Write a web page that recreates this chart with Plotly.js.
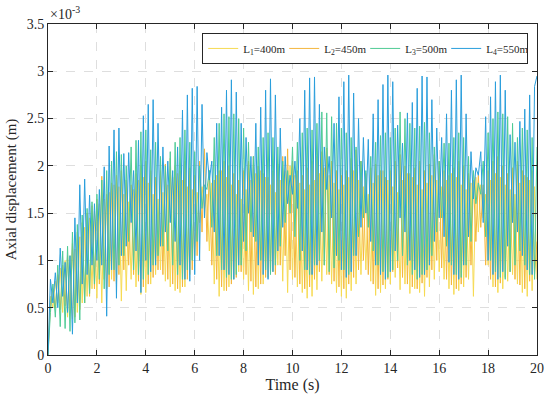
<!DOCTYPE html>
<html>
<head>
<meta charset="utf-8">
<script src="https://cdn.plot.ly/plotly-3.0.1.min.js"></script>
<style>html,body{margin:0;padding:0;background:#fff;}#chart{width:550px;height:404px;}</style>
</head>
<body>
<div id="chart"></div>
<script>
// Time samples (s): 0 to 20 in 0.1 s steps
const timeStep = 0.1;
const nSamples = 201;
const time = Array.from({length: nSamples}, (_, i) => +(i * timeStep).toFixed(1));

// Axial displacement values in units of 1e-3 m
const disp_L1 = [0, 0.62, 0.50, 0.78, 0.55, 0.92, 0.45, 1.00, 0.40, 1.05,
0.38, 1.12, 0.45, 1.25, 0.55, 1.35, 0.62, 1.45, 0.70, 1.52,
0.60, 1.60, 0.55, 1.65, 0.70, 1.72, 0.80, 1.80, 0.75, 1.78,
0.57, 1.70, 0.68, 1.62, 0.80, 1.75, 0.72, 1.85, 0.64, 1.88,
0.66, 1.82, 0.75, 1.70, 0.85, 1.65, 0.90, 1.72, 0.78, 1.80,
0.72, 1.88, 0.68, 1.92, 0.66, 1.85, 0.72, 1.78, 0.85, 1.75,
1.05, 1.72, 1.40, 1.78, 1.55, 1.70, 1.10, 1.82, 0.75, 1.90,
0.62, 1.95, 0.68, 1.88, 0.72, 1.80, 0.80, 1.70, 0.88, 1.65,
0.80, 1.75, 0.68, 1.85, 0.64, 1.92, 0.70, 1.95, 0.75, 1.88,
0.82, 1.80, 0.88, 1.72, 0.95, 1.85, 0.78, 1.95, 0.66, 2.00,
0.80, 1.90, 0.72, 1.82, 0.66, 1.75, 0.60, 1.80, 0.62, 1.85,
0.69, 1.92, 0.78, 1.98, 0.85, 1.90, 0.75, 1.82, 0.66, 1.75,
0.62, 1.80, 0.60, 1.88, 0.68, 1.95, 0.75, 1.85, 0.85, 1.78,
0.90, 1.70, 0.78, 1.82, 0.63, 1.90, 0.66, 1.95, 0.70, 1.85,
0.75, 1.78, 0.82, 1.72, 0.69, 1.85, 0.75, 1.92, 0.65, 1.88,
0.70, 1.80, 0.66, 1.75, 0.62, 1.82, 0.72, 1.90, 0.80, 1.85,
0.88, 1.78, 0.80, 1.85, 0.70, 1.92, 0.64, 1.88, 0.68, 1.80,
0.72, 1.75, 0.80, 1.82, 0.62, 1.88, 1.30, 1.80, 1.45, 1.70,
0.95, 1.85, 0.72, 1.92, 0.66, 1.88, 0.70, 1.80, 0.78, 1.75,
0.85, 1.70, 0.75, 1.82, 0.66, 1.90, 0.62, 1.85, 0.68, 1.78,
0.80];

const disp_L2 = [0, 0.55, 0.70, 0.50, 0.85, 0.48, 0.95, 0.52, 1.05, 0.45,
1.18, 0.40, 1.30, 0.48, 1.40, 0.55, 1.50, 0.62, 1.58, 0.70,
1.65, 0.75, 1.89, 0.80, 1.70, 0.72, 1.82, 0.78, 1.90, 0.85,
1.95, 0.90, 1.85, 0.95, 1.80, 0.85, 1.92, 0.78, 2.00, 0.72,
2.05, 0.75, 1.95, 0.82, 1.88, 0.90, 1.95, 0.85, 2.02, 0.80,
2.08, 0.75, 2.00, 0.70, 1.95, 0.72, 2.05, 0.80, 1.98, 0.90,
1.90, 1.05, 2.05, 1.30, 2.18, 1.20, 1.95, 0.95, 1.85, 0.80,
1.95, 0.72, 2.05, 0.68, 2.00, 0.75, 1.92, 0.82, 1.85, 0.88,
1.95, 0.85, 2.05, 0.78, 2.10, 0.72, 2.00, 0.75, 1.92, 0.82,
1.88, 0.88, 1.95, 0.85, 2.02, 0.95, 2.10, 1.05, 2.18, 0.90,
2.05, 0.82, 1.95, 0.75, 1.90, 0.70, 1.98, 0.72, 2.05, 0.80,
2.10, 0.88, 2.15, 0.95, 2.19, 0.85, 2.05, 0.78, 1.95, 0.72,
1.90, 0.70, 1.95, 0.75, 2.08, 0.82, 2.17, 0.90, 2.05, 1.00,
1.92, 0.85, 1.98, 0.75, 2.02, 0.70, 1.95, 0.74, 1.88, 0.80,
1.95, 0.88, 2.05, 0.92, 2.12, 0.82, 2.00, 0.75, 1.92, 0.72,
1.98, 0.70, 2.05, 0.76, 1.95, 0.82, 2.02, 0.90, 2.12, 1.00,
2.05, 0.92, 1.95, 0.80, 1.90, 0.74, 1.98, 0.70, 2.05, 0.75,
2.00, 0.82, 1.92, 0.95, 1.85, 1.20, 1.90, 1.35, 1.80, 0.95,
1.95, 0.80, 2.05, 0.72, 2.10, 0.76, 2.00, 0.82, 1.92, 0.88,
1.98, 0.80, 2.05, 0.74, 1.95, 0.70, 1.88, 0.78, 1.95, 0.85,
1.20];

const disp_L3 = [0, 0.45, 0.75, 0.40, 0.95, 0.30, 1.10, 0.28, 1.15, 0.25,
1.30, 0.34, 1.38, 0.37, 1.48, 0.55, 1.55, 0.65, 1.62, 0.75,
1.70, 0.80, 1.85, 0.70, 1.95, 0.85, 2.05, 0.90, 2.15, 0.95,
2.12, 1.05, 2.00, 1.20, 2.20, 0.90, 2.27, 0.85, 2.36, 0.80,
2.38, 0.85, 2.17, 0.95, 2.25, 1.05, 2.10, 1.15, 2.00, 1.10,
2.15, 0.95, 2.25, 0.85, 2.30, 0.80, 2.38, 0.90, 2.25, 1.00,
2.15, 1.20, 2.00, 1.55, 1.80, 1.75, 1.95, 1.35, 2.30, 1.05,
2.45, 0.90, 2.55, 0.82, 2.52, 0.80, 2.55, 0.85, 2.50, 0.95,
2.40, 1.10, 2.25, 1.30, 2.10, 1.20, 2.20, 1.00, 2.30, 0.90,
2.35, 0.85, 2.30, 0.95, 2.20, 1.15, 2.05, 1.40, 1.95, 1.50,
2.20, 1.25, 2.25, 1.00, 2.35, 0.90, 2.40, 0.85, 2.38, 0.95,
2.45, 1.00, 2.57, 0.95, 2.56, 0.88, 2.52, 0.92, 2.45, 1.00,
2.40, 0.90, 2.35, 0.85, 2.30, 1.05, 2.20, 1.25, 2.05, 1.45,
1.95, 1.35, 2.10, 1.10, 2.25, 0.95, 2.32, 0.88, 2.35, 0.82,
2.30, 0.90, 2.40, 1.00, 2.57, 1.05, 2.50, 0.95, 2.45, 0.85,
2.40, 0.80, 2.42, 0.85, 2.46, 0.90, 2.35, 1.05, 2.20, 1.30,
2.05, 1.45, 2.24, 1.15, 2.24, 0.95, 2.30, 0.85, 2.35, 0.82,
2.30, 0.95, 2.10, 1.20, 1.95, 1.60, 1.82, 1.70, 2.05, 1.25,
2.35, 1.00, 2.50, 0.88, 2.57, 0.82, 2.55, 0.80, 2.52, 0.88,
2.45, 0.95, 2.30, 1.10, 2.40, 0.95, 2.38, 0.85, 2.30, 0.80,
2.20];

const disp_L4 = [0, 0.80, 0.55, 0.87, 0.50, 1.13, 0.62, 0.98, 0.45, 1.05,
0.22, 1.45, 0.55, 1.80, 0.75, 1.86, 0.85, 1.69, 0.95, 1.60,
1.00, 1.75, 0.95, 1.99, 0.41, 2.21, 0.90, 2.38, 0.60, 2.40,
1.05, 2.13, 1.15, 2.14, 1.40, 1.95, 1.10, 2.27, 0.66, 2.53,
1.00, 2.65, 0.88, 2.70, 0.95, 2.45, 1.15, 2.20, 1.30, 2.05,
1.40, 1.95, 1.20, 2.20, 0.95, 2.59, 0.80, 2.75, 0.78, 2.82,
0.85, 2.84, 1.00, 2.65, 1.45, 2.14, 1.85, 2.05, 1.30, 2.45,
1.05, 2.62, 0.90, 2.80, 0.85, 2.91, 0.80, 2.78, 0.95, 2.45,
1.20, 2.30, 1.50, 2.10, 1.25, 2.45, 0.95, 2.62, 0.85, 2.80,
0.80, 2.92, 0.88, 2.75, 1.10, 2.40, 1.35, 2.10, 1.60, 1.90,
1.70, 2.05, 1.55, 2.50, 1.10, 2.80, 0.90, 2.93, 0.85, 2.94,
0.95, 2.65, 1.30, 2.20, 1.75, 2.10, 1.45, 2.45, 1.05, 2.73,
0.90, 2.89, 0.82, 2.96, 0.88, 2.77, 1.05, 2.50, 1.35, 2.30,
1.50, 2.28, 1.20, 2.55, 0.95, 2.70, 0.85, 2.86, 0.80, 2.96,
0.88, 2.89, 1.10, 2.43, 1.45, 2.24, 1.30, 2.56, 1.00, 2.67,
0.90, 2.82, 0.82, 2.95, 0.85, 2.94, 0.95, 2.70, 1.20, 2.40,
1.45, 2.30, 1.25, 2.55, 0.98, 2.80, 0.85, 2.91, 0.80, 2.96,
0.95, 2.55, 1.25, 2.15, 1.65, 1.98, 1.90, 2.15, 1.40, 2.52,
1.00, 2.73, 0.85, 2.89, 0.80, 2.96, 0.88, 2.80, 1.15, 2.33,
1.40, 2.25, 1.30, 2.47, 1.05, 2.60, 0.90, 2.75, 0.85, 2.84,
2.95];

const seriesNames = ['L<sub>1</sub>=400m', 'L<sub>2</sub>=450m', 'L<sub>3</sub>=500m', 'L<sub>4</sub>=550m'];
const seriesData = [disp_L1, disp_L2, disp_L3, disp_L4];
const seriesColors = ['#F6DA52', '#F4B63E', '#4FCB95', '#2A9EDC'];
const xTicks = [0, 2, 4, 6, 8, 10, 12, 14, 16, 18, 20];
const yTicks = [0, 0.5, 1, 1.5, 2, 2.5, 3, 3.5];

const FONT = 'Liberation Serif, Times New Roman, serif';

const traces = seriesData.map((d, k) => ({
  type: 'scatter',
  mode: 'lines',
  x: time,
  y: d,
  name: seriesNames[k],
  line: {color: seriesColors[k], width: 1}
}));

const axisCommon = {
  showline: true,
  linecolor: '#262626',
  linewidth: 1,
  mirror: 'ticks',
  ticks: 'inside',
  ticklen: 5,
  tickcolor: '#262626',
  showgrid: true,
  gridcolor: '#dedede',
  griddash: 'dash',
  gridwidth: 1,
  zeroline: false,
  tickfont: {family: FONT, size: 14, color: '#262626'}
};

const layout = {
  width: 550,
  height: 404,
  margin: {l: 48, r: 13, t: 24, b: 49},
  paper_bgcolor: '#ffffff',
  plot_bgcolor: '#ffffff',
  font: {family: FONT, color: '#262626'},
  showlegend: true,
  xaxis: Object.assign({}, axisCommon, {
    range: [0, 20],
    tickvals: xTicks,
    ticktext: xTicks.map(String),
    title: {text: 'Time (s)', font: {family: FONT, size: 16, color: '#262626'}, standoff: 4}
  }),
  yaxis: Object.assign({}, axisCommon, {
    range: [0, 3.5],
    tickvals: yTicks,
    ticktext: yTicks.map(String),
    title: {text: 'Axial displacement (m)', font: {family: FONT, size: 15, color: '#262626'}, standoff: 6}
  }),
  legend: {
    orientation: 'h',
    x: 0.982,
    xanchor: 'right',
    y: 0.973,
    yanchor: 'top',
    bgcolor: '#ffffff',
    bordercolor: '#262626',
    borderwidth: 1,
    font: {family: FONT, size: 11, color: '#262626'},
    itemwidth: 30,
    entrywidth: 36,
    entrywidthmode: 'pixels'
  },
  annotations: [{
    xref: 'paper', yref: 'paper',
    x: 0, y: 1,
    xanchor: 'left', yanchor: 'bottom',
    showarrow: false,
    text: '×10<sup>-3</sup>',
    font: {family: FONT, size: 14, color: '#262626'}
  }]
};

Plotly.newPlot('chart', traces, layout, {displayModeBar: false, staticPlot: true});
</script>
</body>
</html>
